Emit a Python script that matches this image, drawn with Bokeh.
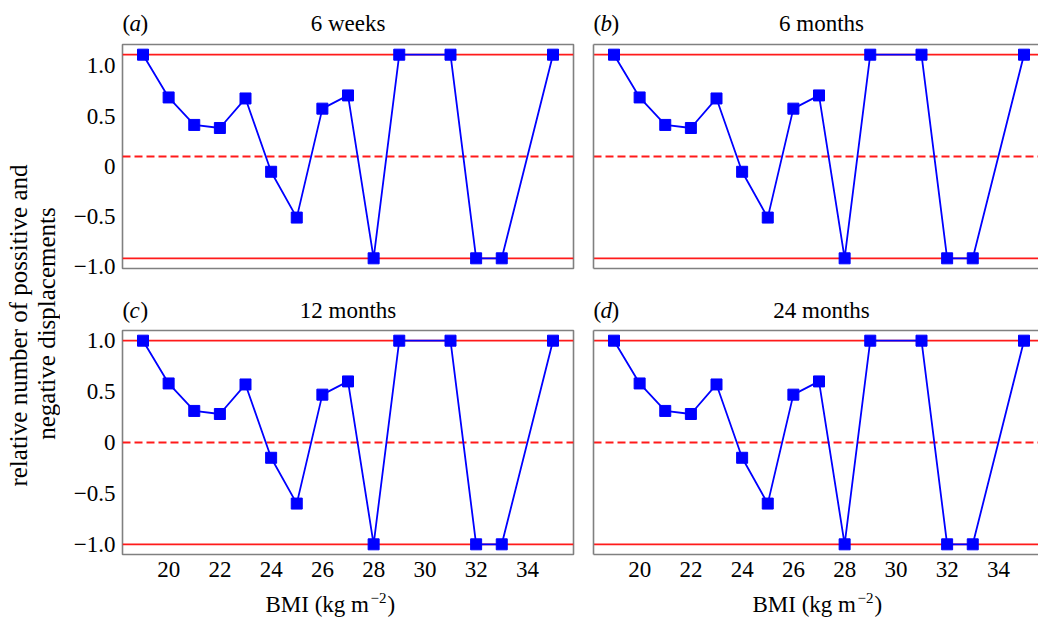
import math
from bokeh.plotting import figure
from bokeh.layouts import row, column
from bokeh.models import Span, FixedTicker, LinearAxis, Range1d
from bokeh.core.properties import value
from bokeh.embed import file_html
from bokeh.resources import INLINE

# ---------------- data ----------------
bmi = [19, 20, 21, 22, 23, 24, 25, 26, 27, 28, 29, 31, 32, 33, 35]
disp_6_weeks = [1.0, 0.58, 0.31, 0.28, 0.57, -0.15, -0.60, 0.47, 0.60, -1.0, 1.0, 1.0, -1.0, -1.0, 1.0]
disp_6_months = [1.0, 0.58, 0.31, 0.28, 0.57, -0.15, -0.60, 0.47, 0.60, -1.0, 1.0, 1.0, -1.0, -1.0, 1.0]
disp_12_months = [1.0, 0.58, 0.31, 0.28, 0.57, -0.15, -0.60, 0.47, 0.60, -1.0, 1.0, 1.0, -1.0, -1.0, 1.0]
disp_24_months = [1.0, 0.58, 0.31, 0.28, 0.57, -0.15, -0.60, 0.47, 0.60, -1.0, 1.0, 1.0, -1.0, -1.0, 1.0]
panel_letters = ["a", "b", "c", "d"]
panel_titles = ["6 weeks", "6 months", "12 months", "24 months"]
ref_levels = [1.0, 0.0, -1.0]
y_tick_values = [1.0, 0.5, 0.0, -0.5, -1.0]
y_tick_labels = ["1.0", "0.5", "0", "\u22120.5", "\u22121.0"]
x_tick_values = [20, 22, 24, 26, 28, 30, 32, 34]
x_title_parts = ["BMI (kg m", "\u22122", ")"]
y_title_lines = ["relative number of possitive and", "negative displacements"]

# ---------------- style / layout ----------------
FONT = "Liberation Serif"
FS = "23px"
GRAY = "#808080"
BLUE = "#0000ff"
RED = "#ff1a1a"
LABEL_W = 60
FRAME_H = 224
LEFT_MBL, LEFT_FRAME_W, LEFT_MBR = 62, 451, 8
RIGHT_MBL, RIGHT_FRAME_W = 12, 445
X_START, X_END_FULL = 18.2, 35.8
PX_X = (X_END_FULL - X_START) / LEFT_FRAME_W
# y-label positions in the upper row of the reference sit ~0.1 lower than their values
TOP_ROW_TICK_POS = [0.89, 0.39, -0.10, -0.59, -1.08]
TOP_MBB = 16
H_HEAD1, H_TOP, H_HEAD2, H_BOT, H_FOOT = 42, 2 + FRAME_H + TOP_MBB, 44, 259, 30
PANELS_W = LEFT_MBL + LEFT_FRAME_W + LEFT_MBR + RIGHT_MBL + RIGHT_FRAME_W
TOTAL_H = H_HEAD1 + H_TOP + H_HEAD2 + H_BOT + H_FOOT


def style_axis(ax, ticks, labels=None, standoff=7):
    ax.ticker = FixedTicker(ticks=ticks)
    ax.major_tick_line_color = None
    ax.minor_tick_line_color = None
    ax.major_tick_in = 0
    ax.major_tick_out = 0
    ax.minor_tick_in = 0
    ax.minor_tick_out = 0
    ax.major_label_standoff = standoff
    ax.major_label_text_font = FONT
    ax.major_label_text_font_size = FS
    ax.major_label_text_color = "black"
    if labels is not None:
        ax.major_label_overrides = {t: l for t, l in zip(ticks, labels)}


def make_panel(values, left, top):
    frame_w = LEFT_FRAME_W if left else RIGHT_FRAME_W
    mbl = LEFT_MBL if left else RIGHT_MBL
    mbr = LEFT_MBR if left else 0
    mbt = 2
    mbb = TOP_MBB if top else H_BOT - FRAME_H - 2
    x_end = X_START + frame_w * PX_X
    p = figure(width=mbl + frame_w + mbr, height=mbt + FRAME_H + mbb,
               x_range=Range1d(X_START, x_end), y_range=Range1d(-1.1, 1.1),
               output_backend="svg", toolbar_location=None,
               min_border_left=mbl, min_border_right=mbr,
               min_border_top=mbt, min_border_bottom=mbb,
               x_axis_location=None, y_axis_location=None)
    p.grid.visible = False
    p.background_fill_color = "white"
    p.border_fill_color = "white"

    if left:
        p.outline_line_color = GRAY
        p.outline_line_width = 1.6
        yax = LinearAxis(axis_line_color=None)
        style_axis(yax, TOP_ROW_TICK_POS if top else y_tick_values, y_tick_labels)
        p.add_layout(yax, "left")
        if not top:
            xax = LinearAxis(axis_line_color=None)
            style_axis(xax, x_tick_values)
            p.add_layout(xax, "below")
    else:
        p.outline_line_color = None
        yax = LinearAxis(axis_line_color=GRAY, axis_line_width=1.6)
        style_axis(yax, [], standoff=0)
        p.add_layout(yax, "left")
        tax = LinearAxis(axis_line_color=GRAY, axis_line_width=1.6)
        style_axis(tax, [], standoff=0)
        p.add_layout(tax, "above")
        bax = LinearAxis(axis_line_color=GRAY, axis_line_width=1.6)
        if top:
            style_axis(bax, [], standoff=0)
        else:
            style_axis(bax, x_tick_values)
        p.add_layout(bax, "below")

    for lvl in ref_levels:
        p.add_layout(Span(location=lvl, dimension="width", line_color=RED,
                          line_width=1.8, line_dash="solid" if lvl != 0 else "8 4",
                          level="underlay"))

    p.line(bmi, values, line_color=BLUE, line_width=1.8)
    p.scatter(bmi, values, marker="square", size=11, fill_color=BLUE, line_color=BLUE)
    return p


def text_strip(height):
    s = figure(width=PANELS_W, height=height, x_range=Range1d(0, PANELS_W),
               y_range=Range1d(0, height), output_backend="svg", toolbar_location=None,
               min_border=0, x_axis_location=None, y_axis_location=None)
    s.grid.visible = False
    s.outline_line_color = None
    return s


def add_title(s, letter, title, x_left, x_center, base):
    kw = dict(text_font=value(FONT), text_font_size=FS, text_baseline="alphabetic",
              text_color="black")
    s.text(x=[x_left], y=[base], text=["("], text_align="left", **kw)
    s.text(x=[x_left + 7], y=[base], text=[letter], text_align="left",
           text_font_style="italic", **kw)
    s.text(x=[x_left + 18], y=[base], text=[")"], text_align="left", **kw)
    s.text(x=[x_center], y=[base], text=[title], text_align="center", **kw)


pa = make_panel(disp_6_weeks, True, True)
pb = make_panel(disp_6_months, False, True)
pc = make_panel(disp_12_months, True, False)
pd = make_panel(disp_24_months, False, False)

head1 = text_strip(H_HEAD1)
add_title(head1, panel_letters[0], panel_titles[0], 62, 287.5, 19)
add_title(head1, panel_letters[1], panel_titles[1], 533, 761, 19)
head2 = text_strip(H_HEAD2)
add_title(head2, panel_letters[2], panel_titles[2], 62, 287.5, 18)
add_title(head2, panel_letters[3], panel_titles[3], 533, 761, 18)

foot = text_strip(H_FOOT)
for x0 in (205, 692):
    kw = dict(text_font=value(FONT), text_baseline="alphabetic", text_color="black",
              text_align="left")
    foot.text(x=[x0], y=[13], text=[x_title_parts[0]], text_font_size=FS, **kw)
    foot.text(x=[x0 + 105], y=[20], text=[x_title_parts[1]], text_font_size="15px", **kw)
    foot.text(x=[x0 + 122], y=[13], text=[x_title_parts[2]], text_font_size=FS, **kw)

# shared y-axis title
lab = figure(width=LABEL_W, height=TOTAL_H, x_range=Range1d(0, LABEL_W), y_range=Range1d(0, TOTAL_H),
             output_backend="svg", toolbar_location=None,
             min_border=0, x_axis_location=None, y_axis_location=None)
lab.grid.visible = False
lab.outline_line_color = None
lab.text(x=[18, 46], y=[TOTAL_H - 325, TOTAL_H - 323], text=y_title_lines,
         angle=math.pi / 2, text_font=value(FONT), text_font_size="25px",
         text_align="center", text_baseline="middle", text_color="black")

layout = row(lab, column(head1, row(pa, pb), head2, row(pc, pd), foot))
open("out.html", "w").write(file_html(layout, INLINE))
